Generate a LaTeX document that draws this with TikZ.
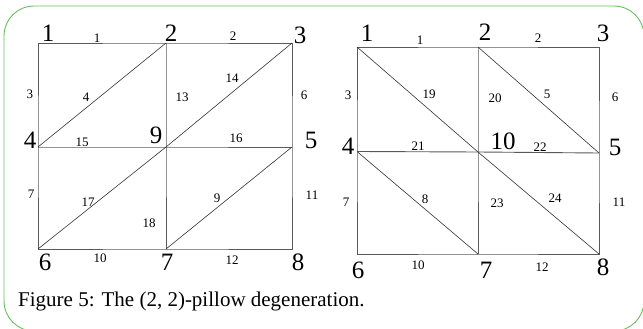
\documentclass[tikz,border=0pt]{standalone}
\usepackage{fontspec}
\setmainfont{Liberation Serif}
\begin{document}
\begin{tikzpicture}[x=1pt,y=-1pt,
  edge/.style={draw=black!65,line width=0.9pt},
  diag/.style={draw=black!80,line width=0.6pt},
  vlab/.style={font=\fontsize{25}{25}\selectfont,inner sep=0pt},
  elab/.style={font=\fontsize{13}{13}\selectfont,inner sep=0pt},
  framebox/.style={draw={rgb,255:red,105;green,190;blue,95},line width=0.9pt,rounded corners=30pt}]
\useasboundingbox (0,0) rectangle (643,329);
\draw[framebox] (4,6) rectangle (644,331);
% left grid
\coordinate (a1) at (38,43); \coordinate (a2) at (166,43); \coordinate (a3) at (292,43);
\coordinate (a4) at (38,147); \coordinate (a9) at (166,147); \coordinate (a5) at (292,147);
\coordinate (a6) at (38,249); \coordinate (a7) at (166,249); \coordinate (a8) at (292,249);
\draw[edge] (a1) -- (a2) -- (a3) -- (a5) -- (a8) -- (a7) -- (a6) -- (a4) -- (a1);
\draw[edge] (a2) -- (a9) -- (a7);
\draw[edge] (a4) -- (a9) -- (a5);
\draw[diag] (a4) -- (a2);
\draw[diag] (a9) -- (a3);
\draw[diag] (a6) -- (a9);
\draw[diag] (a7) -- (a5);
\node[vlab] (va1) at (48,33) {1};
\node[vlab] (va2) at (171,33) {2};
\node[vlab] (va3) at (300,35) {3};
\node[vlab] (va4) at (30,140) {4};
\node[vlab] (va9) at (156,135) {9};
\node[vlab] (va5) at (311,140) {5};
\node[vlab] (va6) at (45,262) {6};
\node[vlab] (va7) at (167,262) {7};
\node[vlab] (va8) at (298,262) {8};
\node[elab] (ea1) at (97,38) {1};
\node[elab] (ea2) at (233,36) {2};
\node[elab] (ea3) at (30,94) {3};
\node[elab] (ea4) at (86,97) {4};
\node[elab] (ea13) at (182,97) {13};
\node[elab] (ea14) at (232,78) {14};
\node[elab] (ea6) at (304,95) {6};
\node[elab] (ea15) at (82,142) {15};
\node[elab] (ea16) at (236,138) {16};
\node[elab] (ea7) at (31,194) {7};
\node[elab] (ea17) at (88,202) {17};
\node[elab] (ea18) at (149,223) {18};
\node[elab] (ea9) at (217,198) {9};
\node[elab] (ea11) at (312,195) {11};
\node[elab] (ea10) at (100,258) {10};
\node[elab] (ea12) at (232,260) {12};
% right grid
\coordinate (b1) at (357,47); \coordinate (b2) at (478,47); \coordinate (b3) at (599,47);
\coordinate (b4) at (357,151.5); \coordinate (b10) at (478,152); \coordinate (b5) at (599,153);
\coordinate (b6) at (357,254); \coordinate (b7) at (478,254); \coordinate (b8) at (599,254);
\draw[edge] (b1) -- (b2) -- (b3) -- (b5) -- (b8) -- (b7) -- (b6) -- (b4) -- (b1);
\draw[edge] (b2) -- (b10) -- (b7);
\draw[edge] (b4) -- (b10) -- (b5);
\draw[diag] (b1) -- (b10);
\draw[diag] (b2) -- (b5);
\draw[diag] (b4) -- (b7);
\draw[diag] (b10) -- (b8);
\node[vlab] (vb1) at (367,33) {1};
\node[vlab] (vb2) at (485,32) {2};
\node[vlab] (vb3) at (603,33) {3};
\node[vlab] (vb4) at (348,146) {4};
\node[vlab] (vb10) at (503,141) {10};
\node[vlab] (vb5) at (615,147) {5};
\node[vlab] (vb6) at (358,270) {6};
\node[vlab] (vb7) at (486,270) {7};
\node[vlab] (vb8) at (603,267) {8};
\node[elab] (eb1) at (420,40) {1};
\node[elab] (eb2) at (538,38) {2};
\node[elab] (eb3) at (348,95) {3};
\node[elab] (eb19) at (429,94) {19};
\node[elab] (eb20) at (495,98) {20};
\node[elab] (eb5) at (547,94) {5};
\node[elab] (eb6) at (615,97) {6};
\node[elab] (eb21) at (418,146) {21};
\node[elab] (eb22) at (540,147) {22};
\node[elab] (eb7) at (346,202) {7};
\node[elab] (eb8) at (425,199) {8};
\node[elab] (eb23) at (497,203) {23};
\node[elab] (eb24) at (555,198) {24};
\node[elab] (eb11) at (619,202) {11};
\node[elab] (eb10) at (418,265) {10};
\node[elab] (eb12) at (542,267) {12};
% caption
\node[anchor=base west,inner sep=0pt,font=\fontsize{21}{21}\selectfont] (cap) at (18,306) {Figure 5: The (2, 2)-pillow degeneration.};
\end{tikzpicture}
\end{document}
